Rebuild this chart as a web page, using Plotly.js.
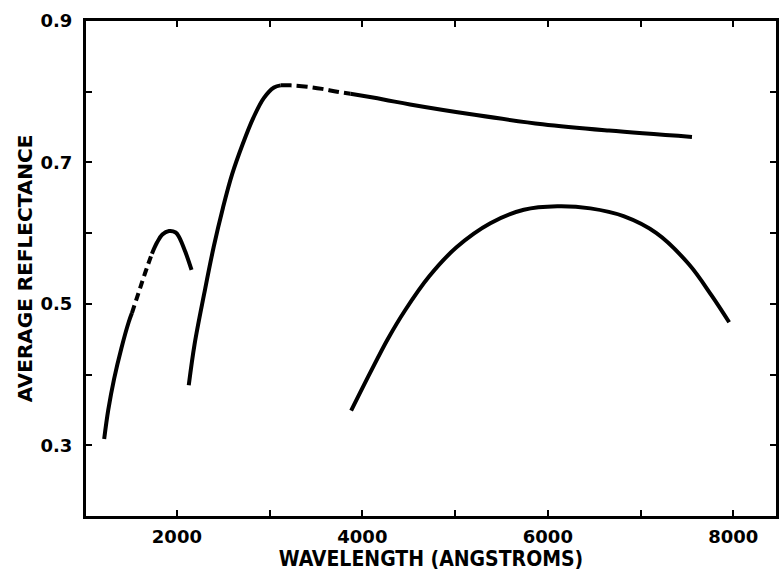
<!DOCTYPE html>
<html>
<head>
<meta charset="utf-8">
<script src="https://cdn.plot.ly/plotly-3.0.1.min.js"></script>
<style>
  html, body { margin: 0; padding: 0; background: #fff; }
  #chart { width: 781px; height: 585px; }
</style>
</head>
<body>
<div id="chart"></div>
<script>
// Curve A (far-UV peak): solid, dashed, solid segments
const curveA1X = [1216, 1260, 1323, 1401, 1480, 1515];
const curveA1Y = [0.309, 0.350, 0.394, 0.437, 0.474, 0.487];
const curveA2X = [1515, 1560, 1600, 1640, 1690, 1731];
const curveA2Y = [0.487, 0.505, 0.521, 0.537, 0.556, 0.571];
const curveA3X = [1731, 1787, 1843, 1915, 1987, 2022, 2090, 2158];
const curveA3Y = [0.571, 0.587, 0.598, 0.603, 0.601, 0.595, 0.574, 0.548];

// Curve B (upper): solid rise, dashed plateau, solid decline
const curveB1X = [2128, 2191, 2294, 2396, 2497, 2595, 2710, 2824, 2937, 3047, 3119];
const curveB1Y = [0.385, 0.443, 0.514, 0.580, 0.636, 0.683, 0.726, 0.763, 0.791, 0.806, 0.809];
const curveB2X = [3119, 3227, 3405, 3567, 3727, 3871];
const curveB2Y = [0.809, 0.809, 0.807, 0.804, 0.800, 0.797];
const curveB3X = [3871, 4227, 4514, 5228, 5943, 6659, 7554];
const curveB3Y = [0.797, 0.789, 0.782, 0.767, 0.754, 0.745, 0.736];

// Curve C (visible hump)
const curveCX = [3879, 4086, 4273, 4461, 4721, 5015, 5380, 5741, 6102, 6459, 6816, 7171, 7521, 7765, 7955];
const curveCY = [0.349, 0.403, 0.450, 0.491, 0.539, 0.580, 0.614, 0.633, 0.638, 0.635, 0.624, 0.600, 0.556, 0.512, 0.474];

// Axis ticks
const xTickVals = [2000, 3000, 4000, 5000, 6000, 7000, 8000];
const xTickText = ['2000', '', '4000', '', '6000', '', '8000'];
const yTickVals = [0.3, 0.4, 0.5, 0.6, 0.7, 0.8, 0.9];
const yTickText = ['0.3', '', '0.5', '', '0.7', '', '0.9'];

const xTitle = 'WAVELENGTH (ANGSTROMS)';
const yTitle = 'AVERAGE REFLECTANCE';

function seg(x, y, dash) {
  return {
    x: x, y: y, type: 'scatter', mode: 'lines',
    line: { color: '#000', width: 4, shape: 'spline', smoothing: 1, dash: dash },
    hoverinfo: 'skip', showlegend: false
  };
}

const traces = [
  seg(curveA1X, curveA1Y, 'solid'),
  seg(curveA2X, curveA2Y, '8px,5px'),
  seg(curveA3X, curveA3Y, 'solid'),
  seg(curveB1X, curveB1Y, 'solid'),
  seg(curveB2X, curveB2Y, '11px,5px'),
  seg(curveB3X, curveB3Y, 'solid'),
  seg(curveCX, curveCY, 'solid')
];

const tickFont = { family: 'DejaVu Sans, sans-serif', size: 18, color: '#000', weight: 'bold' };

const layout = {
  width: 781, height: 585,
  margin: { l: 86, r: 5, t: 21, b: 69 },
  paper_bgcolor: '#fff', plot_bgcolor: '#fff',
  showlegend: false,
  xaxis: {
    range: [1020, 8460],
    tickmode: 'array', tickvals: xTickVals, ticktext: xTickText,
    ticks: 'inside', ticklen: 6, tickwidth: 2, tickcolor: '#000',
    showline: true, linecolor: '#000', linewidth: 3, mirror: 'ticks',
    showgrid: false, zeroline: false,
    tickfont: tickFont, ticklabelstandoff: 2,
    title: { text: xTitle, font: { family: 'DejaVu Sans Condensed, DejaVu Sans, sans-serif', size: 21, color: '#000', weight: 'bold' }, standoff: 2 }
  },
  yaxis: {
    range: [0.2, 0.9],
    tickmode: 'array', tickvals: yTickVals, ticktext: yTickText,
    ticks: 'inside', ticklen: 6, tickwidth: 2, tickcolor: '#000',
    showline: true, linecolor: '#000', linewidth: 3, mirror: 'ticks',
    showgrid: false, zeroline: false,
    tickfont: tickFont, ticklabelstandoff: 7,
    title: { text: yTitle, font: { family: 'DejaVu Sans, sans-serif', size: 20, color: '#000', weight: 'bold' }, standoff: 3 }
  }
};

Plotly.newPlot('chart', traces, layout, { staticPlot: true, displayModeBar: false });
</script>
</body>
</html>
